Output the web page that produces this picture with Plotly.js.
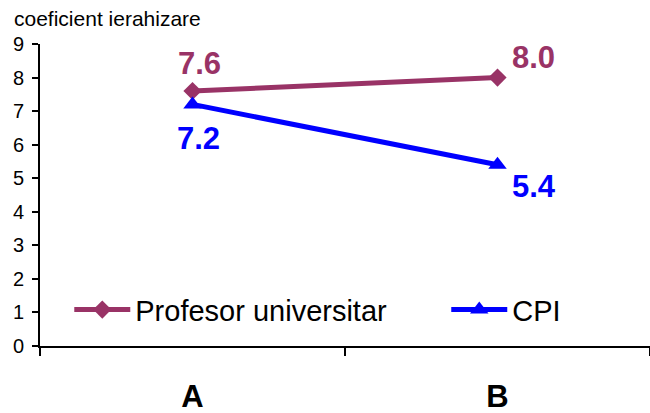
<!DOCTYPE html>
<html><head><meta charset="utf-8">
<script src="https://cdn.plot.ly/plotly-3.0.1.min.js"></script>
<style>body{margin:0;padding:0;background:#fff}#chart{width:650px;height:413px}</style>
</head><body><div id="chart"></div>
<script>
const categories = ['A', 'B'];
const profValues = [7.6, 8.0];
const cpiValues = [7.2, 5.4];
const seriesNames = ['Profesor universitar', 'CPI'];
const yTicks = [0,1,2,3,4,5,6,7,8,9];
const yAxisTitle = 'coeficient ierahizare';

const profColor = '#993366';
const cpiColor = '#0000FF';
const FONT = 'Arial, Liberation Sans, sans-serif';

const traces = [
  {x: categories, y: profValues, name: seriesNames[0], type: 'scatter', mode: 'lines+markers', legend: 'legend',
   line: {color: profColor, width: 5}, marker: {symbol: 'diamond', size: 14, color: profColor}},
  {x: categories, y: cpiValues, name: seriesNames[1], type: 'scatter', mode: 'lines+markers', legend: 'legend2',
   line: {color: cpiColor, width: 5}, marker: {symbol: 'triangle-up', size: 16, color: cpiColor}}
];

const labelFont = (c) => ({family: FONT, size: 31, color: c, weight: 'bold'});
const profShift = [[7, 27], [36, 20]];
const cpiShift = [[6, -34], [36, -22]];
const annotations = [];
categories.forEach((c, i) => {
  annotations.push({x: c, y: profValues[i], text: '<b>' + profValues[i].toFixed(1) + '</b>', showarrow: false,
    xanchor: 'center', yanchor: 'middle',
    xshift: profShift[i][0], yshift: profShift[i][1], font: labelFont(profColor)});
  annotations.push({x: c, y: cpiValues[i], text: '<b>' + cpiValues[i].toFixed(1) + '</b>', showarrow: false,
    xanchor: 'center', yanchor: 'middle',
    xshift: cpiShift[i][0], yshift: cpiShift[i][1], font: labelFont(cpiColor)});
});
annotations.push({xref: 'paper', yref: 'paper', x: -0.046, y: 1.083, xanchor: 'left', yanchor: 'middle',
  text: yAxisTitle, showarrow: false, font: {family: FONT, size: 21, color: '#000'}});

const legendBase = {orientation: 'h', yanchor: 'middle', xanchor: 'left', y: 0.12,
  font: {size: 29, family: FONT, color: '#000'}, bgcolor: 'rgba(0,0,0,0)', itemwidth: 56, borderwidth: 0};

const layout = {
  width: 650, height: 413,
  margin: {l: 40, r: 0, t: 44, b: 67},
  paper_bgcolor: '#fff', plot_bgcolor: '#fff',
  font: {family: FONT, color: '#000'},
  showlegend: true,
  legend: Object.assign({}, legendBase, {x: 0.048}),
  legend2: Object.assign({}, legendBase, {x: 0.666}),
  xaxis: {type: 'category', range: [-0.5, 1.5], showline: true, linecolor: '#000', linewidth: 2,
    ticks: 'outside', ticklen: 8, tickcolor: '#000', tickwidth: 2, tickson: 'boundaries',
    showgrid: false, zeroline: false, ticklabelstandoff: 22,
    tickfont: {size: 31, family: FONT, weight: 'bold'}},
  yaxis: {range: [0, 9], tickvals: yTicks, showline: true, linecolor: '#000', linewidth: 2,
    ticks: 'outside', ticklen: 6, tickcolor: '#000', tickwidth: 2, showgrid: false, zeroline: false,
    ticklabelstandoff: 4, tickfont: {size: 20, family: FONT}},
  annotations: annotations
};
Plotly.newPlot('chart', traces, layout, {displayModeBar: false, staticPlot: true});
</script></body></html>
